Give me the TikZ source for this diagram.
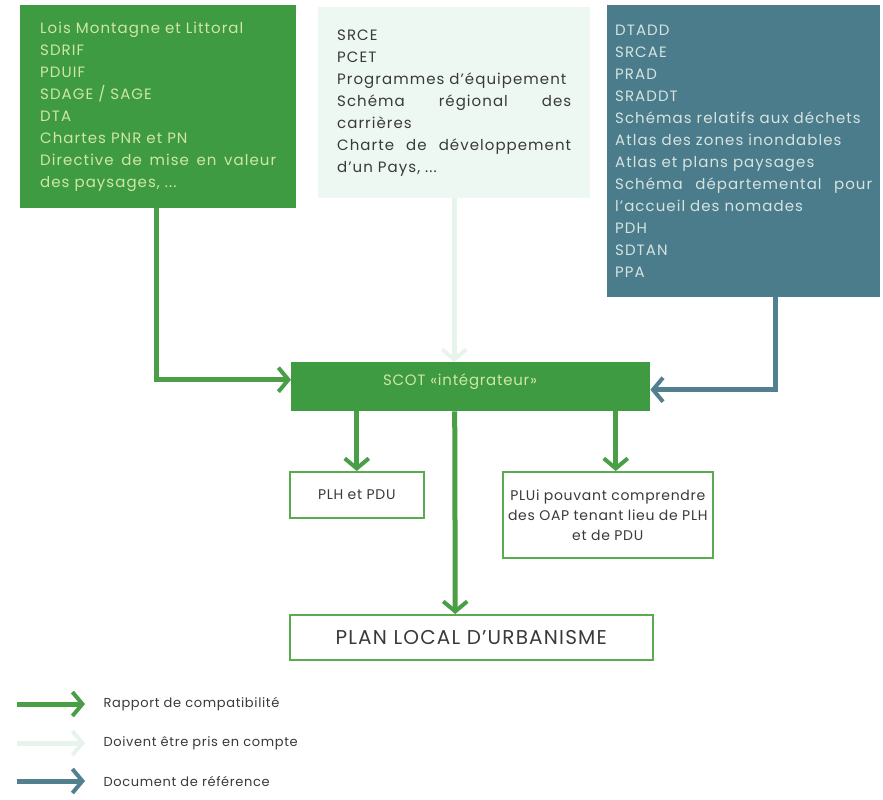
\documentclass[tikz,border=0pt]{standalone}
\usepackage{fontspec}
\setmainfont{Poppins}[LetterSpace=6]
\newfontfamily\boxfont{Poppins}[LetterSpace=7]
\newfontfamily\smallfont{Poppins}[LetterSpace=5]
\usetikzlibrary{arrows.meta}
\definecolor{gfill}{HTML}{3E9B41}
\definecolor{gtext}{HTML}{CFE7A2}
\definecolor{bfill}{HTML}{4B7C8B}
\definecolor{btext}{HTML}{D6E3E0}
\definecolor{pfill}{HTML}{EEF8F2}
\definecolor{pline}{HTML}{E6F4EC}
\definecolor{garr}{HTML}{4A9E45}
\definecolor{barr}{HTML}{52808F}
\definecolor{gedge}{HTML}{5AAA50}
\definecolor{dtext}{HTML}{3A3A3A}
\tikzset{
  bigbox/.style={rectangle, anchor=north west, inner xsep=20pt, inner ysep=0pt,
    align=left, font=\boxfont\fontsize{15}{22}\selectfont},
  smallbox/.style={rectangle, draw=gedge, line width=1.5pt, fill=white, text=dtext,
    anchor=north west, align=center, inner sep=0pt, font=\smallfont\fontsize{14}{20}\selectfont},
  garrow/.style={draw=garr, line width=5pt, -{Straight Barb[length=10pt,width=24pt,line width=4pt]}},
  barrow/.style={draw=barr, line width=5pt, -{Straight Barb[length=10pt,width=24pt,line width=4pt]}},
  parrow/.style={draw=pline, line width=5pt, -{Straight Barb[length=10pt,width=24pt,line width=4pt]}},
  legtext/.style={anchor=west, text=dtext, font=\smallfont\fontsize{13}{15}\selectfont},
}
\begin{document}
\begin{tikzpicture}[x=1pt,y=-1pt]
\useasboundingbox (0,0) rectangle (883,800);
\fill[white] (0,0) rectangle (883,800);

\node[bigbox, fill=gfill, text=gtext, text width=236pt, minimum height=203pt] (lois) at (20,5)
 {Lois Montagne et Littoral\\SDRIF\\PDUIF\\SDAGE / SAGE\\DTA\\Chartes PNR et PN\\
  Directive\hfill de\hfill mise\hfill en\hfill valeur\\des paysages, ...};

\node[bigbox, fill=pfill, text=dtext, text width=234pt, minimum height=191pt, inner xsep=19pt] (mid) at (318,7)
 {SRCE\\PCET\\Programmes d’équipement\\Schéma\hfill régional\hfill des\\carrières\\
  Charte\hfill de\hfill développement\\d’un Pays, ...};

\node[bigbox, fill=bfill, text=btext, inner xsep=8pt, text width=257pt, minimum height=292pt] (ref) at (607,5)
 {DTADD\\SRCAE\\PRAD\\SRADDT\\Schémas relatifs aux déchets\\Atlas des zones inondables\\
  Atlas et plans paysages\\Schéma\hfill départemental\hfill pour\\l’accueil des nomades\\PDH\\SDTAN\\PPA};

\node[rectangle, anchor=north west, fill=gfill, minimum width=359pt, minimum height=49pt, inner sep=0pt] (scot) at (291,362) {};
\node[text=gtext, font=\smallfont\fontsize{15}{18}\selectfont, inner sep=0pt] (scott) at (460,382) {SCOT «intégrateur»};

\node[smallbox, minimum width=134pt, minimum height=46pt] (plh) at (289,471) {PLH et PDU};
\node[smallbox, minimum width=210pt, minimum height=86pt] (plui) at (502,471)
 {PLUi pouvant comprendre\\des OAP tenant lieu de PLH\\et de PDU};
\node[smallbox, minimum width=363pt, minimum height=45pt, font=\fontsize{20}{22}\selectfont] (plan) at (289,614) {PLAN LOCAL D’URBANISME};

% connectors
\draw[parrow] (mid.south) -- (mid.south |- scot.north);
\draw[garrow] ([xshift=-2pt]lois.south) |- ([yshift=7pt]scot.west);
\draw[barrow] ([xshift=32pt]ref.south) |- ([yshift=-3pt]scot.east);
\draw[garrow] (scot.south -| plh.north) -- (plh.north);
\draw[garrow] ([xshift=8pt]scot.south -| plui.north) -- ([xshift=8pt]plui.north);
\draw[garrow] ([xshift=-16pt]scot.south) -- ([xshift=-16pt]plan.north);

% legend
\coordinate (l1a) at (17,704); \coordinate (l1b) at (85,704);
\coordinate (l2a) at (17,743); \coordinate (l2b) at (85,743);
\coordinate (l3a) at (17,781); \coordinate (l3b) at (85,781);
\draw[garrow] (l1a) -- (l1b);
\draw[parrow] (l2a) -- (l2b);
\draw[barrow] (l3a) -- (l3b);
\node[legtext] (t1) at (100,704) {Rapport de compatibilité};
\node[legtext] (t2) at (100,743) {Doivent être pris en compte};
\node[legtext] (t3) at (100,781) {Document de référence};
\end{tikzpicture}
\end{document}
